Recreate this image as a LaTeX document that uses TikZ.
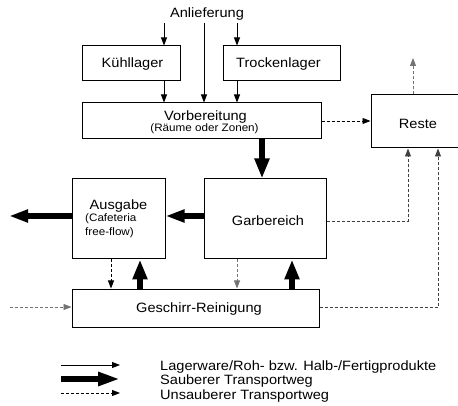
\documentclass[tikz,border=0pt]{standalone}
\usepackage{fontspec}
\setmainfont{Liberation Sans}[FakeStretch=1.08]
\usetikzlibrary{arrows.meta,calc}
\begin{document}
\begin{tikzpicture}[x=1pt,y=-1pt,
  box/.style={draw,line width=1pt,inner sep=0pt},
  lab/.style={font=\fontsize{13.5}{16}\selectfont,inner sep=0pt},
  small/.style={font=\fontsize{10.8}{13}\selectfont,inner sep=0pt},
  prod/.style={line width=0.9pt,-{Triangle[length=8pt,width=6pt]}},
  cleanv/.style={line width=6pt,-{Triangle[length=20pt,width=14pt]}},
  cleanh/.style={line width=6pt,-{Triangle[length=19pt,width=12pt]}},
  dirty/.style={line width=0.9pt,dash pattern=on 3pt off 2pt,-{Triangle[length=8pt,width=6pt]}},
  grey/.style={draw=black!55,color=black!55},
]
\useasboundingbox (0,0) rectangle (458,406);

% boxes
\node[box,minimum width=98pt,minimum height=35pt] (kuehl) at (131,63.5) {};
\node[box,minimum width=117pt,minimum height=35pt] (trock) at (281.5,63.5) {};
\node[box,minimum width=239pt,minimum height=36pt] (vorb) at (201.5,121) {};
\node[box,minimum width=92pt,minimum height=53pt] (reste) at (417,121.5) {};
\node[box,minimum width=93pt,minimum height=80pt] (ausg) at (118.5,219) {};
\node[box,minimum width=122pt,minimum height=80pt] (garb) at (265,219) {};
\node[box,minimum width=247pt,minimum height=38pt] (gesch) at (195.5,308) {};

% texts
\node[lab] (tanl) at (207,14) {Anlieferung};
\node[lab] (tkuehl) at (132.5,64) {Kühllager};
\node[lab] (ttrock) at (278.5,64) {Trockenlager};
\node[lab] (tvorb) at (205.5,117) {Vorbereitung};
\node[small] (tvorb2) at (204.5,128.5) {(Räume oder Zonen)};
\node[lab] (treste) at (418,124) {Reste};
\node[lab] (tausg) at (118.5,206) {Ausgabe};
\node[small,anchor=west] (tausg2) at (85,219) {(Cafeteria};
\node[small,anchor=west] (tausg3) at (85,233) {free-flow)};
\node[lab] (tgarb) at (268,221) {Garbereich};
\node[lab] (tgesch) at (199,309) {Geschirr-Reinigung};

% delivery arrows
\coordinate (a1) at (164,23);
\coordinate (a2) at (204,23);
\coordinate (a3) at (237,23);
\draw[prod] (a1) -- (a1 |- kuehl.north);
\draw[prod] (a2) -- (a2 |- vorb.north);
\draw[prod] (a3) -- (a3 |- trock.north);
\draw[prod] (a1 |- kuehl.south) -- (a1 |- vorb.north);
\draw[prod] (a3 |- trock.south) -- (a3 |- vorb.north);

% Vorbereitung -> Reste
\draw[dirty] (vorb.east) -- (vorb.east -| reste.west);
\coordinate (rup) at (413,58);
\draw[dirty,grey] (rup |- reste.north) -- (rup);

% clean transport
\coordinate (vx) at (262,0);
\draw[cleanv] (vx |- vorb.south) -- (vx |- garb.north);
\coordinate (hy) at (0,216);
\draw[cleanh] (garb.west |- hy) -- (ausg.east |- hy);
\coordinate (out) at (9,216);
\draw[cleanh] (ausg.west |- out) -- (out);
\coordinate (v2) at (140,0);
\draw[cleanv] (v2 |- gesch.north) -- (v2 |- ausg.south);
\coordinate (v4) at (292,0);
\draw[cleanv] (v4 |- gesch.north) -- (v4 |- garb.south);

% dirty transport
\coordinate (v1) at (111,0);
\draw[dirty] (v1 |- ausg.south) -- (v1 |- gesch.north);
\coordinate (v3) at (237,0);
\draw[dirty,grey] (v3 |- garb.south) -- (v3 |- gesch.north);
\coordinate (r1) at (408,221);
\draw[dirty,draw=black!75,color=black!75] (garb.east |- r1) -- (r1) -- (r1 |- reste.south);
\coordinate (r2) at (438,307);
\draw[dirty,draw=black!75,color=black!75] (gesch.east |- r2) -- (r2) -- (r2 |- reste.south);
\coordinate (in) at (10,307);
\draw[dirty,grey] (in) -- (in -| gesch.west);

% legend
\coordinate (l1a) at (61,365); \coordinate (l1b) at (120,365);
\coordinate (l2a) at (61,379); \coordinate (l2b) at (120,379);
\coordinate (l3a) at (61,393); \coordinate (l3b) at (120,393);
\draw[prod] (l1a) -- (l1b);
\draw[line width=6pt,-{Triangle[length=22pt,width=13pt]}] (l2a) -- (l2b);
\draw[dirty] (l3a) -- (l3b);
\node[lab,anchor=west] (leg1) at (160,367) {Lagerware/Roh- bzw. Halb-/Fertigprodukte};
\node[lab,anchor=west] (leg2) at (160,381) {Sauberer Transportweg};
\node[lab,anchor=west] (leg3) at (160,396) {Unsauberer Transportweg};
\end{tikzpicture}
\end{document}
